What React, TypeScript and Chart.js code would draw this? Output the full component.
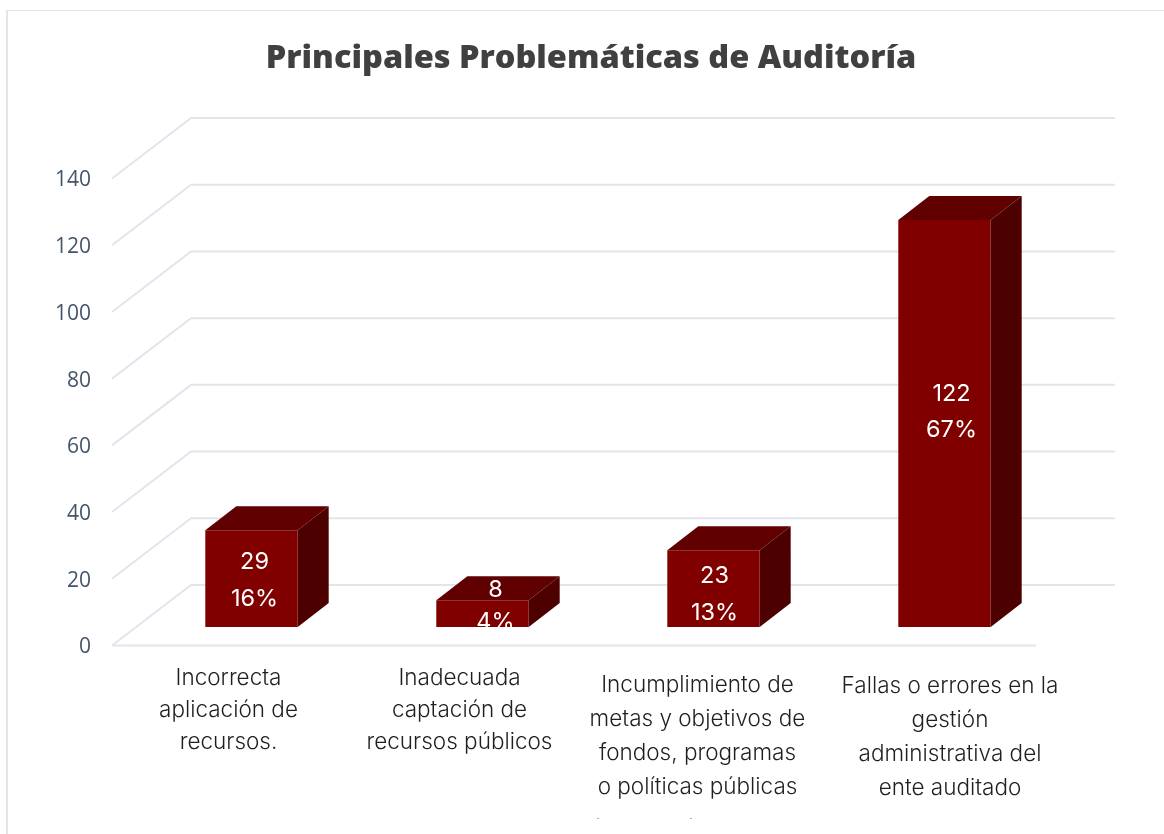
import React, { useEffect, useRef } from "react";
import { Chart, registerables } from "chart.js";

Chart.register(...registerables);

const categories = [
  "Incorrecta aplicación de recursos.",
  "Inadecuada captación de recursos públicos",
  "Incumplimiento de metas y objetivos de fondos, programas o políticas públicas",
  "Fallas o errores en la gestión administrativa del ente auditado",
];
const categoryLines = [
  ["Incorrecta", "aplicación de", "recursos."],
  ["Inadecuada", "captación de", "recursos públicos"],
  ["Incumplimiento de", "metas y objetivos de", "fondos, programas", "o políticas públicas"],
  ["Fallas o errores en la", "gestión", "administrativa del", "ente auditado"],
];
const cutOffLine = "(              )";
const counts = [29, 8, 23, 122];
const shares = ["16%", "4%", "13%", "67%"];
const yTicks = [0, 20, 40, 60, 80, 100, 120, 140];
const yMax = 140;

const GRID = "#E3E5ED";
const FRONT = "#800000";
const TOP = "#600000";
const SIDE = "#4D0000";
const FONT = "Inter";

// 3D projection
const wallDx = 79, wallDy = -60.5;
const barShiftX = 24, barShiftY = -18.5;
const depthX = 31, depthY = -24;
// horizontal nudge, then vertical offsets of the two label lines from the bar's middle
const labelPlace = [
  { dx: 3, count: -16.5, share: 20.5 },
  { dx: 13, count: -23.5, share: 8.5 },
  { dx: 1, count: -12.5, share: 24 },
  { dx: 7, count: -29.5, share: 6.5 },
];
const catLayout = [
  { dx: 1, first: 678, step: 32 },
  { dx: 1, first: 678, step: 32 },
  { dx: 8, first: 685, step: 34 },
  { dx: 29.5, first: 686, step: 34 },
];

const scene3d = {
  id: "scene3d",
  beforeDatasetsDraw(chart: any) {
    const { ctx, scales } = chart;
    const x = scales.x, y = scales.y;
    ctx.save();
    ctx.strokeStyle = GRID;
    ctx.lineWidth = 2;
    for (const v of yTicks) {
      const py = y.getPixelForValue(v);
      ctx.beginPath();
      ctx.moveTo(x.left, py);
      ctx.lineTo(x.left + wallDx, py + wallDy);
      ctx.lineTo(x.right + wallDx, py + wallDy);
      ctx.stroke();
    }
    const y0 = y.getPixelForValue(0);
    ctx.beginPath();
    ctx.moveTo(x.left, y0);
    ctx.lineTo(x.right, y0);
    ctx.stroke();

    const meta = chart.getDatasetMeta(0);
    meta.data.forEach((bar: any) => {
      const half = bar.width / 2;
      const l = bar.x - half + barShiftX;
      const r = bar.x + half + barShiftX;
      const t = bar.y + barShiftY;
      const b = bar.base + barShiftY;
      ctx.fillStyle = TOP;
      ctx.beginPath();
      ctx.moveTo(l, t);
      ctx.lineTo(l + depthX, t + depthY);
      ctx.lineTo(r + depthX, t + depthY);
      ctx.lineTo(r, t);
      ctx.closePath();
      ctx.fill();
      ctx.fillStyle = SIDE;
      ctx.beginPath();
      ctx.moveTo(r, t);
      ctx.lineTo(r + depthX, t + depthY);
      ctx.lineTo(r + depthX, b + depthY);
      ctx.lineTo(r, b);
      ctx.closePath();
      ctx.fill();
    });
    ctx.restore();
    ctx.save();
    ctx.translate(barShiftX, barShiftY);
  },
  afterDatasetsDraw(chart: any) {
    const { ctx, scales } = chart;
    ctx.restore();
    const meta = chart.getDatasetMeta(0);
    ctx.save();
    ctx.fillStyle = "#FFFFFF";
    ctx.font = `400 23.5px ${FONT}`;
    ctx.textAlign = "center";
    ctx.textBaseline = "middle";
    meta.data.forEach((bar: any, i: number) => {
      const place = labelPlace[i];
      const cx = bar.x + barShiftX + place.dx;
      const mid = (bar.y + bar.base) / 2 + barShiftY;
      ctx.save();
      ctx.beginPath();
      ctx.rect(0, 0, chart.width, bar.base + barShiftY);
      ctx.clip();
      ctx.fillText(String(counts[i]), cx, mid + place.count);
      ctx.fillText(shares[i], cx, mid + place.share);
      ctx.restore();
    });
    ctx.restore();

    ctx.save();
    ctx.fillStyle = "#1F1F1F";
    ctx.font = `300 22.5px ${FONT}`;
    ctx.textAlign = "center";
    ctx.textBaseline = "middle";
    categoryLines.forEach((lines, i) => {
      const cx = scales.x.getPixelForValue(i) + catLayout[i].dx;
      lines.forEach((line, j) => ctx.fillText(line, cx, catLayout[i].first + j * catLayout[i].step));
    });
    ctx.beginPath();
    ctx.rect(0, 0, chart.width, 819);
    ctx.clip();
    ctx.fillText(cutOffLine, scales.x.getPixelForValue(2) - 45, 829);
    ctx.restore();
  },
};

export default function App() {
  const ref = useRef<HTMLCanvasElement>(null);
  useEffect(() => {
    document.body.style.margin = "0";
    document.body.style.background = "#FFFFFF";
    const chart = new Chart(ref.current!, {
      type: "bar",
      data: {
        labels: categories,
        datasets: [
          {
            label: "Problemáticas",
            data: counts,
            backgroundColor: FRONT,
            categoryPercentage: 1,
            barPercentage: 0.4,
            clip: false as any,
          },
        ],
      },
      plugins: [scene3d],
      options: {
        animation: false,
        responsive: false,
        layout: { padding: { left: 18, right: 0, top: 0, bottom: 188.5 } },
        plugins: {
          legend: { display: false },
          tooltip: { enabled: false },
          title: {
            display: true,
            text: "Principales Problemáticas de Auditoría",
            color: "#404040",
            font: { family: "Open Sans", size: 32.5, weight: 800 as any, lineHeight: 1.2 },
            padding: { top: 39, bottom: 100.5 },
          },
        },
        scales: {
          x: {
            afterFit(s: any) { s.height = 0; },
            grid: { display: false },
            border: { display: false },
            ticks: { display: false },
          },
          y: {
            min: 0,
            max: yMax,
            afterFit(s: any) { s.width = 94; },
            afterBuildTicks(s: any) { s.ticks = yTicks.map((value) => ({ value })); },
            grid: { display: false, drawTicks: false },
            border: { display: false },
            ticks: {
              color: "#44546A",
              padding: 21,
              labelOffset: 2,
              font: { family: "Open Sans", size: 21 },
            },
          },
          spacer: {
            position: "right",
            afterFit(s: any) { s.width = 128; },
            grid: { display: false },
            border: { display: false },
            ticks: { display: false },
          },
        },
      },
    });
    return () => chart.destroy();
  }, []);
  return (
    <div style={{ position: "relative", width: 1164, height: 834, overflow: "hidden", background: "#fff" }}>
      <canvas ref={ref} width={1164} height={834} style={{ display: "block" }} />
      <div style={{ position: "absolute", left: 6, top: 10, right: -10, bottom: -10, borderLeft: "2px solid #E3E5ED", borderTop: "1.5px solid #E3E5ED" }} />
    </div>
  );
}
